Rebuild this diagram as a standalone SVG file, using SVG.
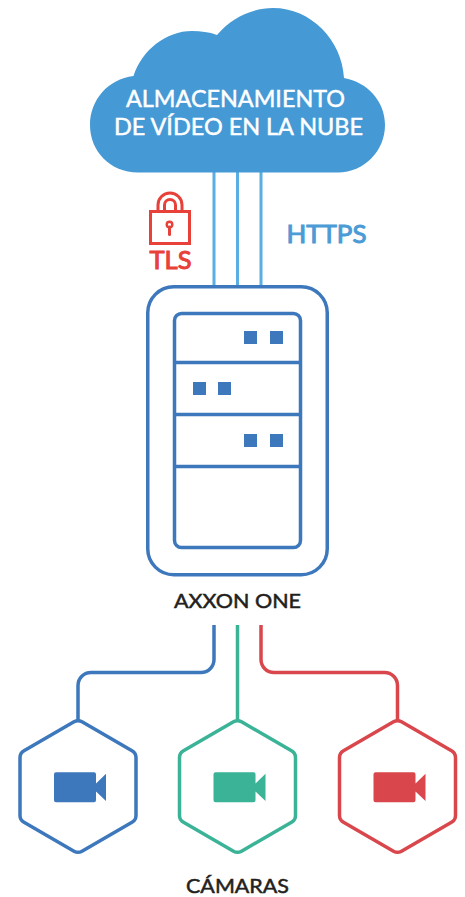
<svg xmlns="http://www.w3.org/2000/svg" width="465" height="897" viewBox="0 0 465 897">
<style>
text{font-family:"Lato","Noto Sans","Liberation Sans",sans-serif;font-weight:400;text-anchor:middle;stroke-width:.5px}
.big{stroke-width:1px;font-size:25px}
.ln{fill:none;stroke-width:3.5}
.up{fill:none;stroke:#5aaee2;stroke-width:3}
.blue{stroke:#3d78bc}.green{stroke:#3ab397}.red{stroke:#d9474c}
.fblue{fill:#3d78bc}.fgreen{fill:#3ab397}.fred{fill:#d9474c}
.lbl{fill:#231f20;stroke:#231f20;font-size:19.5px}
.cloudt{fill:#fff;stroke:#fff;font-size:24px}
.sq{fill:#3d78bc}
</style>
<defs>
<path id="hex" d="M-4-64.7Q0-67 4-64.7L54-35.8Q58-33.5 58-28.9V28.9Q58 33.5 54 35.8L4 64.7Q0 67-4 64.7L-54 35.8Q-58 33.5-58 28.9V-28.9Q-58-33.5-54-35.8Z"/>
<path id="cam" d="M-22-14.300H16a2 2 0 0 1 2 2V13.700a2 2 0 0 1-2 2H-22a2 2 0 0 1-2-2V-12.300a2 2 0 0 1 2-2ZM18-3L28-12.800V14.500L18 5Z"/>
</defs>
<g id="connectors">
<path class="up" d="M214 172V286M237.500 172V286M261 172V286"/>
<path class="ln blue" d="M214 625V659.500a13 13 0 0 1-13 13H91a13 13 0 0 0-13 13V721"/>
<path class="ln green" d="M237.500 625V721"/>
<path class="ln red" d="M261 625V659.500a13 13 0 0 0 13 13H384.500a13 13 0 0 1 13 13V721"/>
</g>
<g id="cloud">
<path fill="#4599d5" d="M138 172.500C110 172.500 90 151 90 125C90 100 108 79 133.500 76C142 50 166 31 192 31C201 31 209 32 217 35C231 18 252 8 273 8C311 8 342 40 344 78C367 82 385 101 385 125C385 151 364 172.500 338 172.500Z"/>
<text class="cloudt" x="235.500" y="107" textLength="219" lengthAdjust="spacingAndGlyphs">ALMACENAMIENTO</text>
<text class="cloudt" x="238.500" y="135" textLength="249" lengthAdjust="spacingAndGlyphs">DE VÍDEO EN LA NUBE</text>
</g>
<g id="tls">
<rect x="150.500" y="211.500" width="39" height="32" fill="none" stroke="#e8413a" stroke-width="3"/>
<path d="M158 211V205a12 12 0 0 1 24 0V211M164.500 211V205a5.500 5.500 0 0 1 11 0V211" fill="none" stroke="#e8413a" stroke-width="3"/>
<circle cx="169.500" cy="224.500" r="2.800" fill="none" stroke="#e8413a" stroke-width="2.400"/>
<path d="M169.500 227V234.500" stroke="#e8413a" stroke-width="3" stroke-linecap="round"/>
<text class="big" x="170.500" y="269" fill="#e8413a" stroke="#e8413a" textLength="42" lengthAdjust="spacingAndGlyphs">TLS</text>
</g>
<g id="https">
<text class="big" x="326.500" y="243" fill="#4a9bd6" stroke="#4a9bd6" textLength="80" lengthAdjust="spacingAndGlyphs">HTTPS</text>
</g>
<g id="server">
<rect class="ln blue" x="147.750" y="286.750" width="179.500" height="288" rx="26"/>
<rect class="ln blue" x="174.500" y="313.500" width="126" height="234" rx="7"/>
<path class="ln blue" d="M174.500 362.500H300.500M174.500 414.500H300.500M174.500 466.500H300.500"/>
<rect class="sq" x="244" y="331" width="13" height="13"/>
<rect class="sq" x="270" y="331" width="13" height="13"/>
<rect class="sq" x="193" y="382" width="13" height="13"/>
<rect class="sq" x="218" y="382" width="13" height="13"/>
<rect class="sq" x="244" y="434" width="13" height="13"/>
<rect class="sq" x="270" y="434" width="13" height="13"/>
<text class="lbl" x="237.500" y="608" textLength="127" lengthAdjust="spacingAndGlyphs">AXXON ONE</text>
</g>
<g id="camera-blue" transform="translate(78 786.500)">
<use href="#hex" class="ln blue"/><use href="#cam" class="fblue"/>
</g>
<g id="camera-green" transform="translate(237.500 786.500)">
<use href="#hex" class="ln green"/><use href="#cam" class="fgreen"/>
</g>
<g id="camera-red" transform="translate(397.500 786.500)">
<use href="#hex" class="ln red"/><use href="#cam" class="fred"/>
</g>
<g id="cameras-label">
<text class="lbl" x="237.500" y="892.800" textLength="103" lengthAdjust="spacingAndGlyphs">CÁMARAS</text>
</g>
</svg>
